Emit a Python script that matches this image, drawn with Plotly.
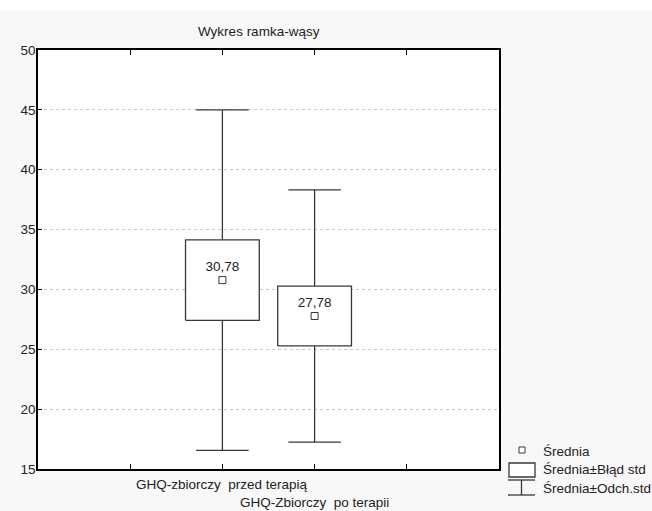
import plotly.graph_objects as go

# Summary statistics per group (mean, standard error, standard deviation)
groups = ["GHQ-zbiorczy  przed terapią", "GHQ-Zbiorczy  po terapii"]
positions = [2, 3]
means = [30.78, 27.78]
std_err = [3.36, 2.50]
std_dev = [14.22, 10.54]

y_ticks = [15, 20, 25, 30, 35, 40, 45, 50]
x_ticks = [0, 1, 2, 3, 4, 5]

legend_labels = ["Średnia", "Średnia±Błąd std", "Średnia±Odch.std"]
title_text = "Wykres ramka-wąsy"

FONT = "Liberation Sans, Arial, sans-serif"
FS = 13.5
INK = "#383838"
BOX_HALF = 0.40   # half box width, in category units
CAP_HALF = 0.285  # half whisker-cap width, in category units

W, H = 652, 511
ML, MR, MT, MB = 38, 153, 50, 42
PW, PH = W - ML - MR, H - MT - MB


def px(xp):
    return (xp - ML) / PW


def py(yp):
    return (H - MB - yp) / PH


# Build the mean ± SE rectangles and mean ± SD whiskers as data-space paths
box_x, box_y = [], []
wh_x, wh_y = [], []
for pos, m, se, sd in zip(positions, means, std_err, std_dev):
    lo, hi = m - se, m + se
    box_x += [pos - BOX_HALF, pos + BOX_HALF, pos + BOX_HALF, pos - BOX_HALF, pos - BOX_HALF, None]
    box_y += [lo, lo, hi, hi, lo, None]
    # upper whisker + cap
    wh_x += [pos, pos, None, pos - CAP_HALF, pos + CAP_HALF, None]
    wh_y += [hi, m + sd, None, m + sd, m + sd, None]
    # lower whisker + cap
    wh_x += [pos, pos, None, pos - CAP_HALF, pos + CAP_HALF, None]
    wh_y += [lo, m - sd, None, m - sd, m - sd, None]

fig = go.Figure()

fig.add_trace(go.Scatter(
    x=wh_x, y=wh_y, mode="lines",
    line=dict(color=INK, width=1.3),
    hoverinfo="skip", showlegend=False,
))

fig.add_trace(go.Scatter(
    x=box_x, y=box_y, mode="lines", fill="toself", fillcolor="white",
    line=dict(color=INK, width=1.3),
    hoverinfo="skip", showlegend=False,
))

# Mean markers with value labels
fig.add_trace(go.Scatter(
    x=positions,
    y=means,
    mode="markers+text",
    marker=dict(symbol="square-open", size=7, color=INK, line=dict(width=1)),
    text=[f"{m:.2f}".replace(".", ",") for m in means],
    textposition="top center",
    textfont=dict(family=FONT, size=FS, color="#222"),
    showlegend=False,
    hoverinfo="skip",
))

annotations = [
    dict(text=title_text, x=px(259), y=py(31), xref="paper", yref="paper",
         showarrow=False, xanchor="center", yanchor="middle",
         font=dict(family=FONT, size=FS, color="#222")),
]

# Staggered category labels under the axis
label_rows = [484, 502]
for pos, name, row in zip(positions, groups, label_rows):
    annotations.append(dict(text=name, x=pos, y=py(row), xref="x", yref="paper",
                            showarrow=False, xanchor="center", yanchor="middle",
                            font=dict(family=FONT, size=FS, color="#222")))

# Legend text
for label, row in zip(legend_labels, [451, 469.5, 488]):
    annotations.append(dict(text=label, x=px(541), y=py(row), xref="paper", yref="paper",
                            showarrow=False, xanchor="left", yanchor="middle",
                            font=dict(family=FONT, size=FS, color="#222")))

lw = dict(color=INK, width=1.3)
shapes = [
    # white strip along the top edge
    dict(type="rect", xref="paper", yref="paper", x0=px(0), x1=px(W), y0=py(10), y1=py(0),
         fillcolor="white", line=dict(width=0), layer="below"),
    # legend symbols
    dict(type="rect", xref="paper", yref="paper", x0=px(519), x1=px(525), y0=py(453), y1=py(447),
         fillcolor="white", line=dict(color=INK, width=1)),
    dict(type="rect", xref="paper", yref="paper", x0=px(509), x1=px(535), y0=py(477), y1=py(463),
         fillcolor="white", line=lw),
    dict(type="line", xref="paper", yref="paper", x0=px(508), x1=px(535), y0=py(480), y1=py(480), line=lw),
    dict(type="line", xref="paper", yref="paper", x0=px(521.5), x1=px(521.5), y0=py(480), y1=py(495), line=lw),
    dict(type="line", xref="paper", yref="paper", x0=px(508), x1=px(535), y0=py(495), y1=py(495), line=lw),
]

fig.update_layout(
    width=W, height=H,
    margin=dict(l=ML, r=MR, t=MT, b=MB, pad=0),
    paper_bgcolor="#f8f8f8",
    plot_bgcolor="white",
    font=dict(family=FONT, size=FS, color="#222"),
    showlegend=False,
    annotations=annotations,
    shapes=shapes,
    xaxis=dict(range=[0, 5], tickvals=x_ticks, showticklabels=False,
               ticks="inside", ticklen=5, tickcolor="black", tickwidth=1.2,
               showline=True, linecolor="black", linewidth=1.6, mirror="ticks",
               showgrid=False, zeroline=False, fixedrange=True),
    yaxis=dict(range=[15, 50], tickvals=y_ticks, ticktext=[str(v) for v in y_ticks],
               ticks="inside", ticklen=4, tickcolor="black", tickwidth=1.2,
               showline=True, linecolor="black", linewidth=1.6, mirror=True,
               showgrid=True, gridcolor="#c8c8c8", gridwidth=1, griddash="dot",
               zeroline=False, ticklabelstandoff=-2, fixedrange=True),
)

fig.write_html("out.html")
